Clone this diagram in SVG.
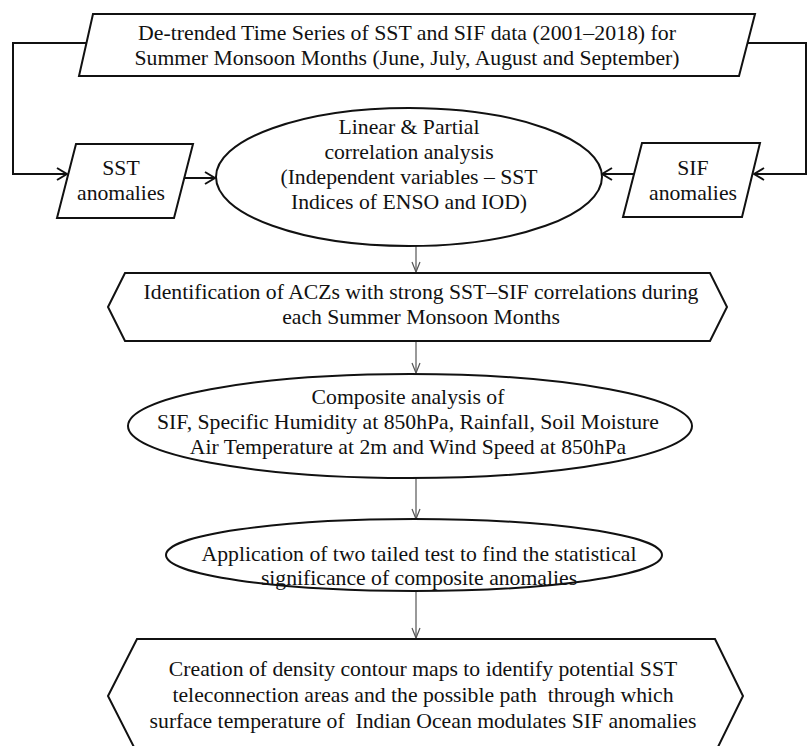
<svg xmlns="http://www.w3.org/2000/svg" width="808" height="746" viewBox="0 0 808 746">
<defs>
<style>
.shape{fill:#fff;stroke:#111;stroke-width:2}
.t{font-family:"Liberation Serif","Times New Roman",serif;font-size:21.7px;fill:#111;text-anchor:middle;white-space:pre}
.c{fill:none;stroke:#111;stroke-width:2}
.v{fill:none;stroke:#555;stroke-width:1.2}
</style>
<marker id="ah" markerUnits="userSpaceOnUse" viewBox="0 0 12 14" refX="11" refY="7" markerWidth="12" markerHeight="14" orient="auto">
<path d="M1,1 L11,7 L1,13" fill="none" stroke="#111" stroke-width="2"/>
</marker>
<marker id="ahv" markerUnits="userSpaceOnUse" viewBox="0 0 12 10" refX="11" refY="5" markerWidth="12" markerHeight="10" orient="auto">
<path d="M1,1 L11,5 L1,9" fill="none" stroke="#555" stroke-width="1.2"/>
</marker>
</defs>
<rect width="808" height="746" fill="#fff"/>
<g id="connectors">
<polyline class="c" points="86,43 13,43 13,174 67,174" marker-end="url(#ah)"/>
<line class="c" x1="185" y1="178" x2="215" y2="178" marker-end="url(#ah)"/>
<polyline class="c" points="742,43 806,43 806,174 754,174" marker-end="url(#ah)"/>
<line class="c" x1="634" y1="174" x2="602" y2="174" marker-end="url(#ah)"/>
<line class="v" x1="416" y1="246" x2="416" y2="272" marker-end="url(#ahv)"/>
<line class="v" x1="416" y1="341" x2="416" y2="373" marker-end="url(#ahv)"/>
<line class="v" x1="416" y1="478" x2="416" y2="519" marker-end="url(#ahv)"/>
<line class="v" x1="416" y1="591" x2="416" y2="638" marker-end="url(#ahv)"/>
</g>
<g id="input">
<polygon class="shape" points="93,14 755,14 739,76 79,76"/>
<text class="t" x="407" y="40" textLength="538" lengthAdjust="spacingAndGlyphs">De-trended Time Series of SST and SIF data (2001–2018) for</text>
<text class="t" x="407" y="65">Summer Monsoon Months (June, July, August and September)</text>
</g>
<g id="sst">
<polygon class="shape" points="76,144 193,144 174,218 57,218"/>
<text class="t" x="121" y="175">SST</text>
<text class="t" x="121" y="200">anomalies</text>
</g>
<g id="sif">
<polygon class="shape" points="642,143 760,143 742,217 623,217"/>
<text class="t" x="693" y="175">SIF</text>
<text class="t" x="693" y="200">anomalies</text>
</g>
<g id="correlation">
<ellipse class="shape" cx="409" cy="177" rx="193" ry="69"/>
<text class="t" x="409" y="134">Linear &amp; Partial</text>
<text class="t" x="409" y="159">correlation analysis</text>
<text class="t" x="409" y="184">(Independent variables – SST</text>
<text class="t" x="409" y="209">Indices of ENSO and IOD)</text>
</g>
<g id="identification">
<polygon class="shape" points="108,307 125,273 710,273 727,307 710,341 125,341"/>
<text class="t" x="421" y="299">Identification of ACZs with strong SST–SIF correlations during</text>
<text class="t" x="421" y="324">each Summer Monsoon Months</text>
</g>
<g id="composite">
<ellipse class="shape" cx="410" cy="426" rx="282" ry="52"/>
<text class="t" x="408" y="404">Composite analysis of</text>
<text class="t" x="408" y="429">SIF, Specific Humidity at 850hPa, Rainfall, Soil Moisture</text>
<text class="t" x="408" y="454">Air Temperature at 2m and Wind Speed at 850hPa</text>
</g>
<g id="ttest">
<ellipse class="shape" cx="414" cy="555" rx="248" ry="36"/>
<text class="t" x="419" y="561">Application of two tailed test to find the statistical</text>
<text class="t" x="419" y="585">significance of composite anomalies</text>
</g>
<g id="density">
<polygon class="shape" points="108,696 137,639 715,639 743,696 715,753 137,753"/>
<text class="t" x="423" y="676">Creation of density contour maps to identify potential SST</text>
<text class="t" x="423" y="702">teleconnection areas and the possible path  through which</text>
<text class="t" x="423" y="728">surface temperature of  Indian Ocean modulates SIF anomalies</text>
</g>
</svg>
